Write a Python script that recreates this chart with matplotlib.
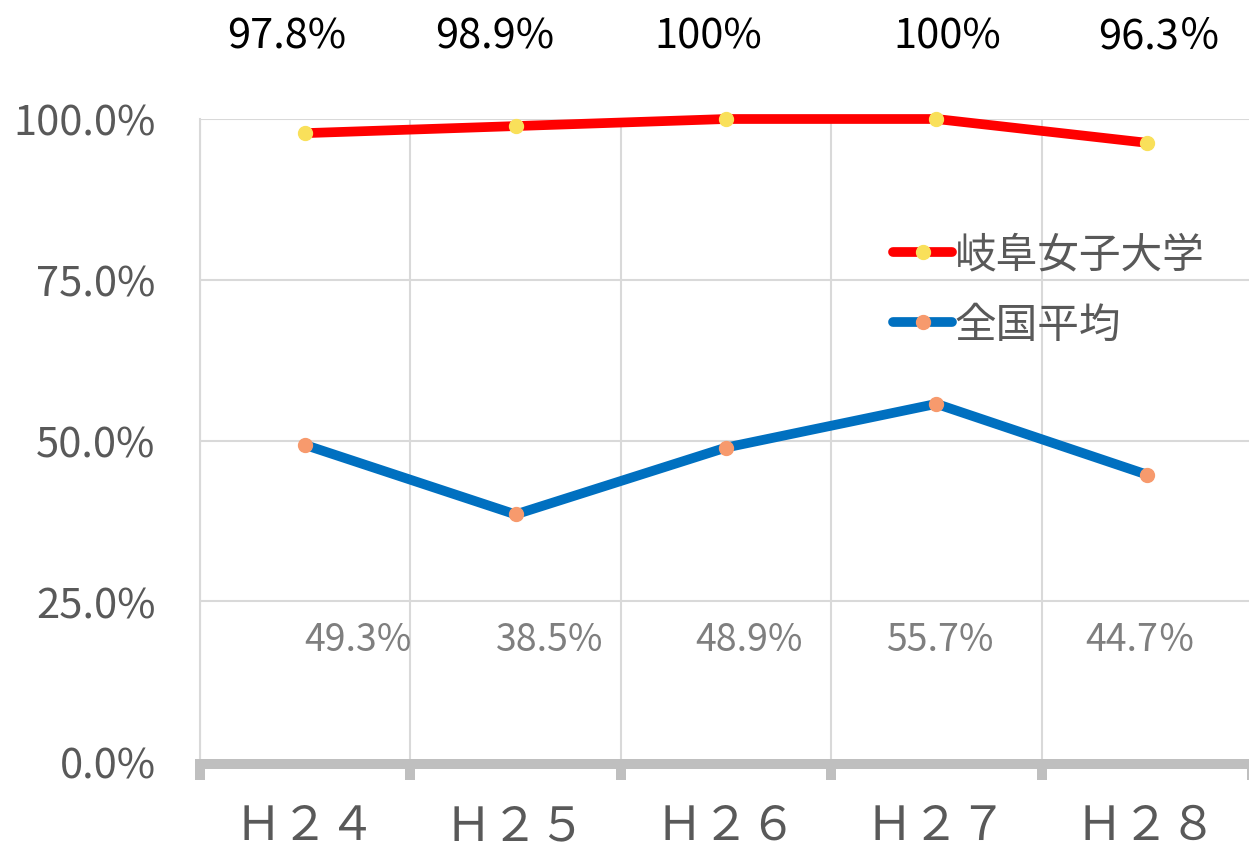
import matplotlib
matplotlib.use('Agg')
import matplotlib.pyplot as plt
import numpy as np

plt.rcParams['font.family'] = ['Noto Sans CJK JP', 'DejaVu Sans']

# data
categories = ['Ｈ２４', 'Ｈ２５', 'Ｈ２６', 'Ｈ２７', 'Ｈ２８']
gifu_vals = [97.8, 98.9, 100.0, 100.0, 96.3]
national_vals = [49.3, 38.5, 48.9, 55.7, 44.7]
gifu_labels = ['97.8%', '98.9%', '100%', '100%', '96.3％']
national_labels = ['49.3%', '38.5%', '48.9%', '55.7%', '44.7％']

# label placement tweaks (in category units)
gifu_off = [-0.09, -0.10, -0.085, 0.05, 0.06]
national_off = [0.25, 0.16, 0.11, 0.015, -0.03]

GRID = '#d9d9d9'
AXIS = '#bfbfbf'
TXT = '#595959'

fig = plt.figure(figsize=(12.49, 8.54), dpi=100)
ax = fig.add_axes([200 / 1249, 1 - 763 / 854, 1052 / 1249, 643 / 854])

x = np.arange(len(categories))
ax.plot(x, gifu_vals, color='#ff0000', lw=7, marker='o', ms=10,
        mfc='#f9e05a', mec='#f9e05a', solid_capstyle='round',
        label='岐阜女子大学', clip_on=False, zorder=4)
ax.plot(x, national_vals, color='#0070c0', lw=7, marker='o', ms=10,
        mfc='#f79a6d', mec='#f79a6d', solid_capstyle='round',
        label='全国平均', clip_on=False, zorder=4)

ax.set_xlim(-0.5, 4.5)
ax.set_ylim(0, 100)

# y axis
ax.set_yticks([0, 25, 50, 75, 100])
ax.set_yticklabels(['0.0%', '25.0%', '50.0%', '75.0%', '100.0%'])
ax.tick_params(axis='y', length=0, pad=32, labelsize=30, labelcolor=TXT)
ax.yaxis.grid(True, color=GRID, lw=1.5)

# x axis: major ticks on boundaries, labels on minor ticks
ax.set_xticks(np.arange(-0.5, 5.0, 1.0))
ax.set_xticklabels([])
ax.set_xticks(x, minor=True)
ax.set_xticklabels(categories, minor=True)
ax.tick_params(axis='x', which='major', direction='out', length=11.5,
               width=7.2, color=AXIS)
ax.tick_params(axis='x', which='minor', length=0, pad=27, labelsize=34,
               labelcolor=TXT)
ax.xaxis.grid(True, which='major', color=GRID, lw=1.5)
ax.set_axisbelow(True)

for s in ['top', 'right']:
    ax.spines[s].set_visible(False)
ax.spines['left'].set_color(GRID)
ax.spines['left'].set_linewidth(1.5)
ax.spines['bottom'].set_color(AXIS)
ax.spines['bottom'].set_linewidth(7.2)
ax.spines['bottom'].set_position(('data', -0.3))

# value labels
for i in range(len(categories)):
    ax.text(x[i] + gifu_off[i], 112.9, gifu_labels[i], ha='center',
            va='center', fontsize=30, color='black', clip_on=False)
    ax.text(x[i] + national_off[i], 19.1, national_labels[i], ha='center',
            va='center', fontsize=27, color='#7f7f7f', clip_on=False)

leg = ax.legend(loc='upper left', bbox_to_anchor=(0.659, 0.82),
                frameon=False, fontsize=30, handlelength=1.42,
                handletextpad=0.05, labelspacing=0.7, borderaxespad=0,
                borderpad=0)
for t in leg.get_texts():
    t.set_color(TXT)

plt.savefig('out.png', dpi=100)
